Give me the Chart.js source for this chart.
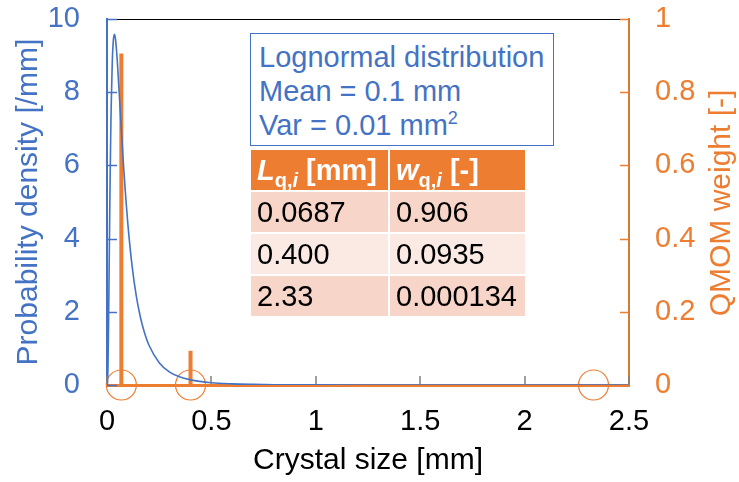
<!DOCTYPE html>
<html>
<head>
<meta charset="utf-8">
<script src="https://cdn.jsdelivr.net/npm/chart.js@4.4.0/dist/chart.umd.min.js"></script>
<style>
  body { margin: 0; background: #fff; font-family: "Liberation Sans", Arial, sans-serif; }
  #wrap { position: relative; width: 739px; height: 482px; }
  #note {
    position: absolute; left: 250px; top: 33px; width: 304px; height: 113px;
    box-sizing: border-box; border: 1px solid #4472C4; background: #fff;
    color: #4472C4; font-size: 29px; line-height: 34px; padding: 6px 0 0 8px;
  }
  #note sup { font-size: 18px; line-height: 0; vertical-align: 11px; }
  #nodes {
    position: absolute; left: 249px; top: 148px;
    border-collapse: separate; border-spacing: 2px; font-size: 29px;
  }
  #nodes td, #nodes th {
    height: 40px; padding: 0 0 0 6px; text-align: left; vertical-align: middle; white-space: nowrap;
  }
  #nodes th { background: #ED7D31; color: #fff; font-weight: bold; }
  #nodes th sub { font-size: 20px; vertical-align: -7px; line-height: 0; }
  #nodes td { color: #000; }
  #nodes tr:nth-child(even) td { background: #F7D5C8; }
  #nodes tr:nth-child(odd) td { background: #FBEAE4; }
  #nodes .c1 { width: 131px; }
  #nodes .c2 { width: 129px; }
</style>
</head>
<body>
<div id="wrap">
  <canvas id="qmomChart" width="739" height="482"></canvas>
  <div id="note">Lognormal distribution<br>Mean = 0.1 mm<br>Var = 0.01 mm<sup>2</sup></div>
  <table id="nodes">
    <tr><th class="c1"><i>L</i><sub>q,<i>i</i></sub> [mm]</th><th class="c2"><i>w</i><sub>q,<i>i</i></sub> [-]</th></tr>
  </table>
</div>
<script>
// lognormal density curve (mean 0.1 mm, var 0.01 mm^2)
const sizeMm = [0, 0.0025, 0.005, 0.0075, 0.01, 0.0125, 0.015, 0.0175, 0.02, 0.025, 0.03, 0.035,
  0.04, 0.045, 0.05, 0.06, 0.07, 0.08, 0.09, 0.1, 0.12, 0.14, 0.16, 0.18, 0.2, 0.25, 0.3, 0.35,
  0.4, 0.5, 0.6, 0.7, 0.8, 1.0, 1.25, 1.5, 2.0, 2.5];
const density = [0, 0.06, 0.61, 1.69, 3.03, 4.39, 5.64, 6.70, 7.58, 8.78, 9.39, 9.58,
  9.48, 9.19, 8.79, 7.83, 6.85, 5.92, 5.11, 4.39, 3.26, 2.44, 1.85, 1.42, 1.10, 0.61, 0.35, 0.22,
  0.14, 0.061, 0.030, 0.016, 0.0086, 0.0030, 0.0010, 0.0004, 0.0001, 0];

// QMOM nodes and weights
const nodeSize = [0.0687, 0.400, 2.33];
const nodeWeight = [0.906, 0.0935, 0.000134];

const blue = '#4472C4';
const orange = '#ED7D31';
const font = '"Liberation Sans", Arial, sans-serif';
Chart.defaults.font.family = font;

// fill the node table
const tbl = document.getElementById('nodes');
nodeSize.forEach((L, i) => {
  const tr = document.createElement('tr');
  tr.innerHTML = '<td class="c1">' + L.toPrecision(3) + '</td><td class="c2">' + nodeWeight[i].toPrecision(3) + '</td>';
  tbl.appendChild(tr);
});

const stems = nodeSize.map((L, i) => ({
  data: [{ x: L, y: 0 }, { x: L, y: nodeWeight[i] }],
  yAxisID: 'y2',
  showLine: true,
  borderColor: orange,
  borderWidth: 4,
  borderCapStyle: 'butt',
  pointRadius: 0
}));

const plain = v => String(+v.toFixed(3));
// no extra room for half tick labels, the frame is placed by hand
const noPad = s => { s.paddingTop = 0; s.paddingBottom = 0; s.paddingLeft = 0; s.paddingRight = 0; };

// inward tick marks, top frame line and right axis title
const framePlugin = {
  id: 'frame',
  afterDraw(chart) {
    const c = chart.ctx, a = chart.chartArea;
    const { x, y, y2 } = chart.scales;
    c.save();
    c.lineWidth = 1;
    c.strokeStyle = '#000';
    c.beginPath(); c.moveTo(a.left, a.top + 0.5); c.lineTo(a.right, a.top + 0.5); c.stroke();

    c.lineWidth = 1.5;
    c.strokeStyle = blue;
    y.ticks.forEach(t => {
      const p = Math.round(y.getPixelForValue(t.value)) + 0.5;
      c.beginPath(); c.moveTo(a.left, p); c.lineTo(a.left + 10, p); c.stroke();
    });
    c.strokeStyle = orange;
    y2.ticks.forEach(t => {
      const p = Math.round(y2.getPixelForValue(t.value)) + 0.5;
      c.beginPath(); c.moveTo(a.right - 9, p); c.lineTo(a.right, p); c.stroke();
    });
    c.strokeStyle = '#7F7F7F';
    x.ticks.forEach(t => {
      const p = Math.round(x.getPixelForValue(t.value));
      c.beginPath(); c.moveTo(p, a.bottom - 9); c.lineTo(p, a.bottom - 1); c.stroke();
    });

    c.translate(722, 203);
    c.rotate(-Math.PI / 2);
    c.fillStyle = orange;
    c.font = '30px ' + font;
    c.textAlign = 'center';
    c.textBaseline = 'middle';
    c.fillText('QMOM weight [-]', 0, 0);
    c.restore();
  }
};

new Chart(document.getElementById('qmomChart'), {
  type: 'scatter',
  data: {
    datasets: [
      {
        data: sizeMm.map((s, i) => ({ x: s, y: density[i] })),
        yAxisID: 'y',
        showLine: true,
        borderColor: blue,
        borderWidth: 1.6,
        pointRadius: 0,
        cubicInterpolationMode: 'monotone'
      },
      ...stems,
      {
        data: nodeSize.map(L => ({ x: L, y: 0 })),
        yAxisID: 'y2',
        showLine: false,
        pointRadius: 15,
        pointBorderWidth: 1.2,
        pointBorderColor: orange,
        pointBackgroundColor: 'rgba(0,0,0,0)',
        clip: false
      }
    ]
  },
  options: {
    responsive: false,
    animation: false,
    layout: { padding: { top: 19, left: 0, right: 0, bottom: 0 } },
    plugins: { legend: { display: false }, tooltip: { enabled: false } },
    scales: {
      x: {
        type: 'linear', min: 0, max: 2.5,
        ticks: { stepSize: 0.5, color: '#000', font: { size: 29 }, padding: 12, callback: plain },
        grid: { display: false },
        border: { color: orange, width: 3 },
        title: { display: true, text: 'Crystal size [mm]', color: '#000', font: { size: 30 }, padding: { top: 0, bottom: 3 } },
        afterFit: s => { s.height = 97; noPad(s); }
      },
      y: {
        position: 'left', min: 0, max: 10,
        ticks: { stepSize: 2, color: blue, font: { size: 29 }, padding: 19, callback: plain },
        grid: { display: false },
        border: { color: blue, width: 2 },
        title: { display: true, text: 'Probability density [/mm]', color: blue, font: { size: 30 }, padding: { top: 11, bottom: 0 } },
        afterFit: s => { s.width = 107; noPad(s); }
      },
      y2: {
        position: 'right', min: 0, max: 1,
        ticks: { stepSize: 0.2, color: orange, font: { size: 29 }, padding: 18, callback: plain },
        grid: { display: false },
        border: { color: '#D27A3A', width: 2 },
        afterFit: s => { s.width = 110; noPad(s); }
      }
    }
  },
  plugins: [framePlugin]
});
</script>
</body>
</html>
